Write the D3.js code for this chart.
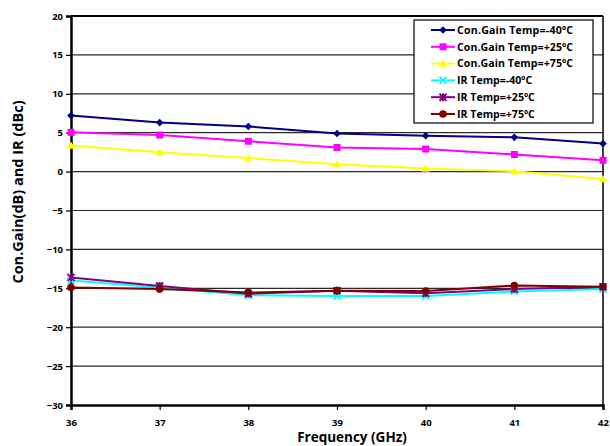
<!DOCTYPE html>
<html><head><meta charset="utf-8">
<script src="https://cdn.jsdelivr.net/npm/d3@7"></script>
<style>body{margin:0;background:#fff}svg{display:block}text{font-family:"Open Sans",sans-serif;font-weight:bold}</style>
</head><body><svg id="c" width="610" height="446"></svg>
<script>
const freqs = [36, 37, 38, 39, 40, 41, 42];
const gainM40 = [7.2, 6.3, 5.8, 4.9, 4.6, 4.4, 3.6];
const gainP25 = [5.05, 4.7, 3.9, 3.1, 2.9, 2.2, 1.45];
const gainP75 = [3.35, 2.5, 1.75, 0.95, 0.4, 0.05, -0.95];
const irM40 = [-14.0, -14.9, -15.9, -16.0, -16.0, -15.4, -15.1];
const irP25 = [-13.6, -14.7, -15.7, -15.3, -15.65, -15.1, -14.8];
const irP75 = [-14.9, -15.1, -15.55, -15.3, -15.35, -14.65, -14.8];
const yTicks = [20, 15, 10, 5, 0, -5, -10, -15, -20, -25, -30];
const seriesNames = ["Con.Gain Temp=-40ºC","Con.Gain Temp=+25ºC","Con.Gain Temp=+75ºC","IR Temp=-40ºC","IR Temp=+25ºC","IR Temp=+75ºC"];
const seriesVals = [gainM40, gainP25, gainP75, irM40, irP25, irP75];
const colors = ["#000080","#FF00FF","#FFFF00","#00FFFF","#800080","#800000"];
const shapes = ["diamond","square","triangle","x","star","circle"];

const svg = d3.select("#c");
const L=71, R=603, T=16, B=405;
const x = d3.scaleLinear().domain([36,42]).range([L,R]);
const y = d3.scaleLinear().domain([-30,20]).range([B,T]);

// gridlines
svg.append("g").selectAll("line").data(yTicks.filter(v=>v>-30&&v<20)).join("line")
  .attr("x1",L).attr("x2",R).attr("y1",d=>y(d)).attr("y2",d=>y(d))
  .attr("stroke","#2a2a2a").attr("stroke-width",1.2);
// frame top/right
svg.append("line").attr("x1",L).attr("x2",R).attr("y1",T).attr("y2",T).attr("stroke","#000").attr("stroke-width",2);
svg.append("line").attr("x1",R).attr("x2",R).attr("y1",T).attr("y2",B).attr("stroke","#000").attr("stroke-width",1.5);

// axes
const yAxis = svg.append("g").attr("transform",`translate(${L},0)`)
  .call(d3.axisLeft(y).tickValues(yTicks).tickSize(5).tickPadding(3));
const xAxis = svg.append("g").attr("transform",`translate(0,${B})`)
  .call(d3.axisBottom(x).tickValues(freqs).tickFormat(d3.format("d")).tickSize(5).tickPadding(9));
[yAxis,xAxis].forEach(a=>{
  a.select(".domain").attr("stroke","#000").attr("stroke-width",2.5);
  a.selectAll(".tick line").attr("stroke","#000").attr("stroke-width",1.2);
  a.selectAll("text").attr("font-family","'Open Sans',sans-serif").attr("font-weight","bold").attr("font-size",9.5).attr("fill","#000");
});

function marker(g, shape, color, cx, cy){
  const s=3.8;
  if(shape==="diamond") g.append("path").attr("d",`M${cx},${cy-s}L${cx+s},${cy}L${cx},${cy+s}L${cx-s},${cy}Z`).attr("fill",color);
  else if(shape==="square") g.append("rect").attr("x",cx-3.5).attr("y",cy-3.5).attr("width",7).attr("height",7).attr("fill",color);
  else if(shape==="triangle") g.append("path").attr("d",`M${cx},${cy-4}L${cx+4.2},${cy+3.2}L${cx-4.2},${cy+3.2}Z`).attr("fill",color);
  else if(shape==="x") g.append("path").attr("d",`M${cx-3.5},${cy-3.5}L${cx+3.5},${cy+3.5}M${cx+3.5},${cy-3.5}L${cx-3.5},${cy+3.5}`).attr("stroke",color).attr("stroke-width",2);
  else if(shape==="star") g.append("path").attr("d",`M${cx-3.5},${cy-3.5}L${cx+3.5},${cy+3.5}M${cx+3.5},${cy-3.5}L${cx-3.5},${cy+3.5}M${cx},${cy-4}L${cx},${cy+4}`).attr("stroke",color).attr("stroke-width",2);
  else if(shape==="circle") g.append("circle").attr("cx",cx).attr("cy",cy).attr("r",3.8).attr("fill",color);
}

const line = d3.line().x((d,i)=>x(freqs[i])).y(d=>y(d));
seriesVals.forEach((vals,k)=>{
  const g = svg.append("g");
  g.append("path").datum(vals).attr("d",line).attr("fill","none").attr("stroke",colors[k]).attr("stroke-width",2);
  vals.forEach((v,i)=>marker(g,shapes[k],colors[k],x(freqs[i]),y(v)));
});

// legend
const lg = svg.append("g");
lg.append("rect").attr("x",414).attr("y",20).attr("width",179).attr("height",103).attr("fill","#fff").attr("stroke","#000").attr("stroke-width",1.2);
seriesNames.forEach((n,k)=>{
  const yy = 30 + k*16.8;
  lg.append("line").attr("x1",431).attr("x2",455).attr("y1",yy).attr("y2",yy).attr("stroke",colors[k]).attr("stroke-width",2);
  marker(lg,shapes[k],colors[k],443,yy);
  lg.append("text").attr("x",457).attr("y",yy+3.8).attr("font-size",10.6).attr("textLength", n.startsWith("Con")?116:null).text(n);
});

// titles
svg.append("text").attr("x",352).attr("y",442).attr("text-anchor","middle").attr("font-size",13.5).text("Frequency (GHz)");
svg.append("text").attr("transform",`translate(23,192) rotate(-90)`).attr("text-anchor","middle").attr("font-size",14.5).text("Con.Gain(dB) and IR (dBc)");
</script></body></html>
